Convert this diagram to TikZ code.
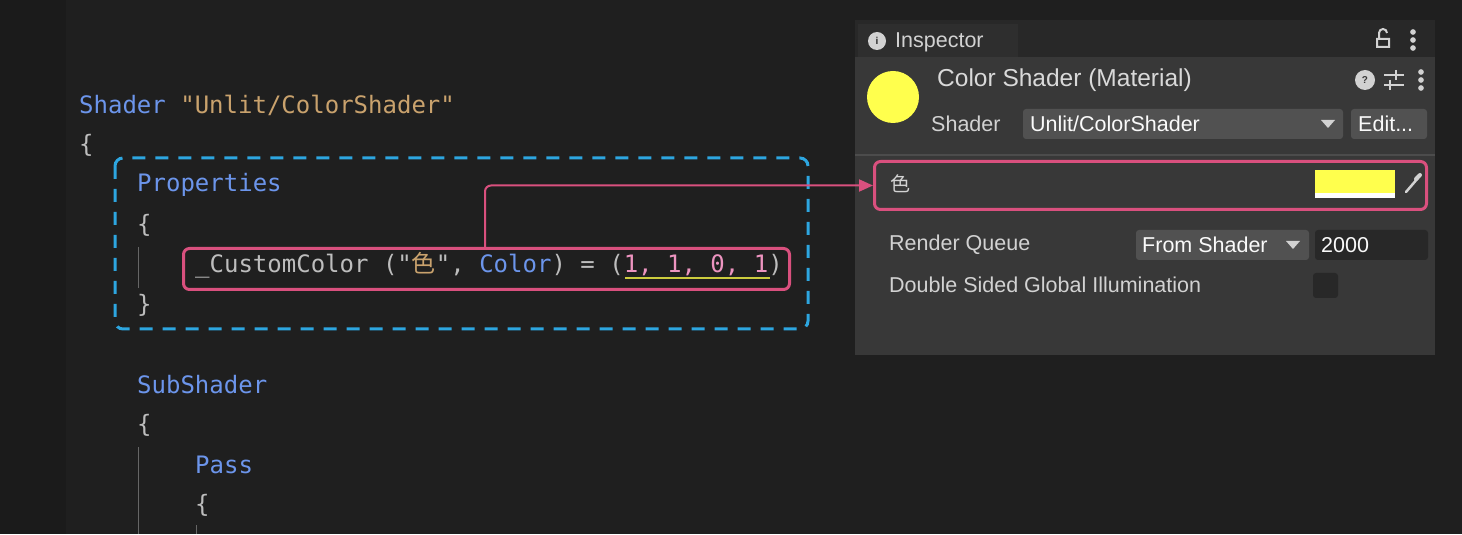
\documentclass[tikz,border=0pt]{standalone}
\usepackage{fontspec}
\setmonofont{DejaVu Sans Mono}
\setsansfont{Liberation Sans}
\newfontfamily\cjk{Noto Sans CJK SC}
\usetikzlibrary{positioning,arrows.meta}
\definecolor{bgcode}{HTML}{1F1F1F}
\definecolor{bggutter}{HTML}{1B1B1B}
\definecolor{bgpanel}{HTML}{383838}
\definecolor{bghead}{HTML}{282828}
\definecolor{kw}{HTML}{6C95EB}
\definecolor{str}{HTML}{C9A26D}
\definecolor{txt}{HTML}{BDBDBD}
\definecolor{num}{HTML}{ED94C0}
\definecolor{hl}{HTML}{D9507E}
\definecolor{dashblue}{HTML}{2DA6E0}
\definecolor{ui}{HTML}{D2D2D2}
\definecolor{field}{HTML}{515151}
\definecolor{ylw}{HTML}{FFFF4D}
\tikzstyle{code}=[anchor=west,inner sep=0pt,font=\fontsize{24}{26}\ttfamily,text=txt]
\tikzstyle{uitext}=[anchor=west,inner sep=0pt,font=\fontsize{21.5}{24}\sffamily,text=ui]
\tikzstyle{pinkbox}=[draw=hl,line width=3pt,rounded corners=6pt]
\tikzstyle{dot}=[circle,fill=ui,inner sep=2pt]
\begin{document}
\begin{tikzpicture}[x=1pt,y=-1pt]
		% backgrounds
		\fill[bgcode] (0,0) rectangle (1462,534);
		\fill[bggutter] (0,0) rectangle (66,534);
		\draw[black!60] (138,247) -- (138,288);
		\draw[black!60] (138,447) -- (138,534);
		\draw[black!60] (196,525) -- (196,534);

		% code
		\node[code] (shd) at (79,105) {\textcolor{kw}{Shader} \textcolor{str}{"Unlit/ColorShader"}};
		\node[code] (b1) at (79,145) {\{};
		\node[code] (prop) at (137,185) {\textcolor{kw}{Properties}};
		\node[code] (b2) at (137,225) {\{};
		\node[code] (cc) at (195,265) {\_CustomColor ("\textcolor{str}{\cjk 色}", \textcolor{kw}{Color}) = (\textcolor{num}{1, 1, 0, 1})};
		\node[code] (b3) at (137,305) {\}};
		\node[code] (sub) at (137,385) {\textcolor{kw}{SubShader}};
		\node[code] (b4) at (137,425) {\{};
		\node[code] (pass) at (195,465) {\textcolor{kw}{Pass}};
		\node[code] (b5) at (195,505) {\{};
		\draw[ylw!80!black,line width=1.5pt] (625,278) -- (770,278);

		% boxes
		\draw[dashblue,line width=3pt,dash pattern=on 13pt off 10pt,rounded corners=8pt] (115,158) rectangle (808,329);
		\node[pinkbox,minimum width=606,minimum height=41,anchor=north west] (ccbox) at (182,247) {};

		% inspector
		\fill[bgpanel] (855,20) rectangle (1435,355);
		\fill[bghead] (855,20) rectangle (1435,57);
		\fill[bgpanel!105] (858,24) rectangle (1018,57);
		\draw[black!70,line width=1.5pt] (855,155) -- (1435,155);
		\node[circle,fill=ui,minimum size=18pt,inner sep=0pt] (info) at (877,41) {};
		\node[font=\bfseries\sffamily,text=bghead,inner sep=0pt] at (info) {i};
		\node[uitext] (insp) at (895,42) {Inspector};
		\draw[ui,line width=2pt] (1377,39) rectangle (1389,47) (1379,39) -- (1379,33) arc[start angle=180,end angle=0,radius=4pt];
		\foreach \y in {32,40,48} \node[dot] at (1413,\y) {};
		\node[circle,fill=ylw,minimum width=50,minimum height=52,inner sep=0pt] (mat) at (893,97) {};
		\node[uitext,font=\fontsize{24.5}{26}\sffamily,text=ui!85] (title) at (937,80) {Color Shader (Material)};
		\node[circle,fill=ui,minimum size=20pt,inner sep=0pt] (help) at (1365,80) {};
		\node[font=\bfseries\sffamily,text=bgpanel,inner sep=0pt] at (help) {?};
		\draw[ui,line width=2pt] (1384,75) -- (1404,75) (1384,85) -- (1404,85)
			(1396,70) -- (1396,80) (1390,80) -- (1390,90);
		\foreach \y in {72,80,88} \node[dot] at (1421,\y) {};
		\node[uitext] (shlab) at (931,124) {Shader};
		\fill[field,rounded corners=3pt] (1023,109) rectangle (1343,139);
		\node[uitext,text=white!90!ui] (shsel) at (1030,124) {Unlit/ColorShader};
		\fill[ui] (1321,120) -- (1335,120) -- (1328,128) -- cycle;
		\fill[field,rounded corners=3pt] (1351,109) rectangle (1427,139);
		\node[uitext,text=white!90!ui] (edit) at (1358,124) {Edit...};

		% color row
		\node[pinkbox,minimum width=552,minimum height=48,anchor=north west] (colbox) at (873,160) {};
		\node[uitext,font=\fontsize{20}{24}\cjk] (iro) at (890,184) {色};
		\fill[ylw] (1315,170) rectangle (1395,193);
		\fill[white] (1315,193) rectangle (1395,198);
		\draw[ui,line width=2.5pt,line cap=round] (1406,192) -- (1418,178);
		\draw[ui,line width=4pt,line cap=round] (1416,179) -- (1420,175);

		% render queue
		\node[uitext] (rq) at (889,245) {Render Queue};
		\fill[field,rounded corners=3pt] (1136,230) rectangle (1309,260);
		\node[uitext,text=white!90!ui] (fs) at (1142,245) {From Shader};
		\fill[ui] (1286,241) -- (1300,241) -- (1293,249) -- cycle;
		\fill[bghead,rounded corners=3pt] (1315,230) rectangle (1428,260);
		\node[uitext,text=white!90!ui] (rqv) at (1321,245) {2000};
		\node[uitext] (dsgi) at (889,285) {Double Sided Global Illumination};
		\fill[bghead,rounded corners=3pt] (1313,273) rectangle (1338,298);

		% connector
		\coordinate (tap) at (485,247);
		\draw[hl,line width=2pt,-{Triangle[length=14pt,width=12pt]},rounded corners=6pt]
			(tap) |- (colbox.west);
\end{tikzpicture}
\end{document}
